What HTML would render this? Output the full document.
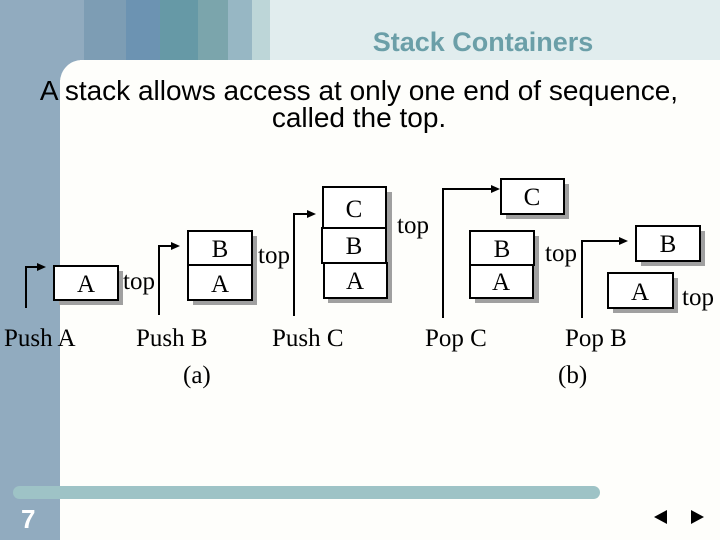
<!DOCTYPE html>
<html><head><meta charset="utf-8"><style>
html,body{margin:0;padding:0;width:720px;height:540px;overflow:hidden;background:#fefefb}
</style></head><body>
<svg width="720" height="540" xmlns="http://www.w3.org/2000/svg">
<rect x="0" y="0" width="720" height="540" fill="#fefefb"/>
<rect x="0" y="0" width="84" height="540" fill="#91abbf"/>
<rect x="84" y="0" width="42" height="60" fill="#7d9db4"/>
<rect x="126" y="0" width="34" height="60" fill="#6c93b2"/>
<rect x="160" y="0" width="38" height="60" fill="#6699a6"/>
<rect x="198" y="0" width="30" height="60" fill="#7ba5ac"/>
<rect x="228" y="0" width="24" height="60" fill="#97b7c4"/>
<rect x="252" y="0" width="18" height="60" fill="#bdd6d8"/>
<rect x="270" y="0" width="450" height="60" fill="#e1edee"/>
<rect x="60" y="60" width="660" height="480" rx="22" fill="#fefefb"/>
<rect x="60" y="80" width="40" height="460" fill="#fefefb"/>
<rect x="80" y="60" width="640" height="40" fill="#fefefb"/>
<text x="483" y="51" font-family="Liberation Sans, sans-serif" font-weight="bold" font-size="27" fill="#6b9fa8" text-anchor="middle">Stack Containers</text>
<g font-family="Liberation Sans, sans-serif" font-size="28" fill="#000" text-anchor="middle">
<text x="359" y="100">A stack allows access at only one end of sequence,</text>
<text x="359" y="127">called the top.</text>
</g>
<g fill="#a0a0a0">
<rect x="59" y="271" width="64" height="34"/>
<rect x="193" y="236" width="64" height="69"/>
<rect x="328" y="192" width="64" height="111"/>
<rect x="506" y="184" width="63" height="35"/>
<rect x="475" y="236" width="64" height="67"/>
<rect x="641" y="231" width="64" height="35"/>
<rect x="613" y="278" width="65" height="35"/>
</g>
<g fill="#fff" stroke="#000" stroke-width="2">
<rect x="54" y="266" width="64" height="34"/>
<rect x="188" y="231" width="64" height="34"/>
<rect x="188" y="265" width="64" height="35"/>
<rect x="323" y="187" width="63" height="41"/>
<rect x="322" y="228" width="64" height="35"/>
<rect x="324" y="263" width="63" height="35"/>
<rect x="501" y="179" width="63" height="35"/>
<rect x="470" y="231" width="64" height="34"/>
<rect x="470" y="265" width="63" height="33"/>
<rect x="636" y="226" width="64" height="35"/>
<rect x="608" y="273" width="65" height="35"/>
</g>
<g font-family="Liberation Serif, serif" font-size="25" fill="#000" text-anchor="middle">
<text x="86" y="292">A</text>
<text x="220" y="257">B</text><text x="220" y="292">A</text>
<text x="354" y="217">C</text><text x="354" y="254">B</text><text x="355" y="289">A</text>
<text x="532" y="205">C</text>
<text x="502" y="257">B</text><text x="501" y="290">A</text>
<text x="668" y="252">B</text><text x="640" y="300">A</text>
</g>
<g font-family="Liberation Serif, serif" font-size="25" fill="#000">
<text x="123" y="289">top</text>
<text x="258" y="263">top</text>
<text x="397" y="233">top</text>
<text x="545" y="261">top</text>
<text x="682" y="305">top</text>
<text x="4" y="346">Push A</text>
<text x="136" y="346">Push B</text>
<text x="183" y="383">(a)</text>
<text x="272" y="346">Push C</text>
<text x="425" y="346">Pop C</text>
<text x="565" y="346">Pop B</text>
<text x="558" y="383">(b)</text>
</g>
<g stroke="#000" stroke-width="2" fill="none">
<polyline points="26,308 26,267 38,267"/>
<polyline points="159,315 159,246 172,246"/>
<polyline points="294,316 294,214 308,214"/>
<polyline points="443,318 443,189 492,189"/>
<polyline points="582,318 582,241 620,241"/>
</g>
<g fill="#000">
<polygon points="46,267 37,263 37,271"/>
<polygon points="180,246 171,242 171,250"/>
<polygon points="316,214 307,210 307,218"/>
<polygon points="500,189 491,185 491,193"/>
<polygon points="628,241 619,237 619,245"/>
</g>
<rect x="13" y="486" width="587" height="13" rx="6.5" fill="#9ec3c6"/>
<text x="21" y="528" font-family="Liberation Sans, sans-serif" font-weight="bold" font-size="26" fill="#fff">7</text>
<polygon points="654,517 667,510 667,524" fill="#000"/>
<polygon points="704,517 691,510 691,524" fill="#000"/>
</svg>
</body></html>
